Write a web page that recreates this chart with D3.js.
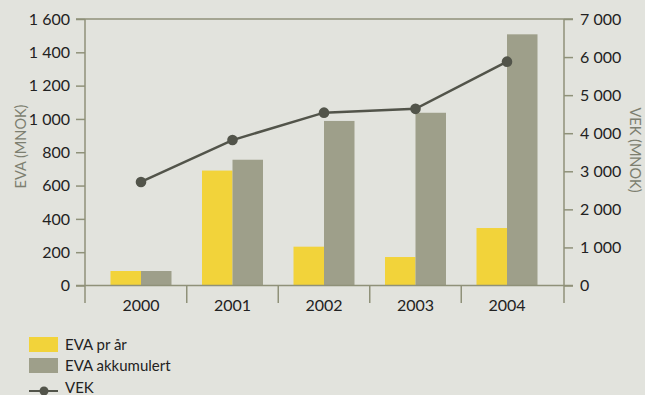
<!DOCTYPE html>
<html>
<head>
<meta charset="utf-8">
<script src="https://cdn.jsdelivr.net/npm/d3@7/dist/d3.min.js"></script>
<style>
  html, body { margin: 0; padding: 0; background: #e2e3dd; }
  svg { display: block; }
  text { font-family: Lato, "Open Sans", sans-serif; }
</style>
</head>
<body>
<svg id="chart" width="645" height="395"></svg>
<script>
// Data (MNOK)
const years = ["2000", "2001", "2002", "2003", "2004"];
const evaPrAar = [87, 690, 233, 171, 345];
const evaAkkumulert = [87, 755, 988, 1037, 1508];
const vek = [2720, 3820, 4540, 4640, 5880];
const leftTicks = [0, 200, 400, 600, 800, 1000, 1200, 1400, 1600];
const rightTicks = [0, 1000, 2000, 3000, 4000, 5000, 6000, 7000];
const legendItems = ["EVA pr år", "EVA akkumulert", "VEK"];

const colors = {
  yellow: "#f2d33a",
  gray: "#9e9f8a",
  line: "#52544a",
  axis: "#8f9179",
  text: "#222222",
  title: "#7d7f70"
};

const svg = d3.select("#chart");
const plotLeft = 85, plotRight = 564, plotTop = 19, plotBase = 285.5;

const nb = d3.formatLocale({ decimal: ",", thousands: "\u00a0", grouping: [3], currency: ["", ""] });
const fmt = nb.format(",d");

const x = d3.scaleBand().domain(years).range([95.25, 552.75]).paddingInner(0).paddingOuter(0);
const yL = d3.scaleLinear().domain([0, 1600]).range([plotBase, plotTop]);
const yR = d3.scaleLinear().domain([0, 7000]).range([plotBase, plotTop]);
const bw = x.bandwidth() / 3;
const cx = d => x(d) + x.bandwidth() / 2;

// Bars
const g = svg.append("g");
g.selectAll("rect.yearly").data(years).join("rect").attr("class", "yearly")
  .attr("x", d => cx(d) - bw).attr("width", bw)
  .attr("y", (d, i) => yL(evaPrAar[i])).attr("height", (d, i) => plotBase - yL(evaPrAar[i]))
  .attr("fill", colors.yellow);
g.selectAll("rect.acc").data(years).join("rect").attr("class", "acc")
  .attr("x", d => cx(d)).attr("width", bw)
  .attr("y", (d, i) => yL(evaAkkumulert[i])).attr("height", (d, i) => plotBase - yL(evaAkkumulert[i]))
  .attr("fill", colors.gray);

// Frame: top line, baseline, vertical axes
const frame = svg.append("g").attr("stroke", colors.axis).attr("stroke-width", 1.5).attr("fill", "none");
frame.append("line").attr("x1", plotLeft - 9).attr("x2", plotRight + 9).attr("y1", plotTop).attr("y2", plotTop);
frame.append("line").attr("x1", plotLeft - 9).attr("x2", plotRight + 9).attr("y1", plotBase).attr("y2", plotBase);
frame.append("line").attr("x1", plotLeft).attr("x2", plotLeft).attr("y1", plotTop).attr("y2", plotBase + 17.5);
frame.append("line").attr("x1", plotRight).attr("x2", plotRight).attr("y1", plotTop).attr("y2", plotBase + 17.5);

// Category separators
frame.selectAll("line.sep").data(years.slice(1)).join("line").attr("class", "sep")
  .attr("x1", d => x(d)).attr("x2", d => x(d))
  .attr("y1", plotBase).attr("y2", plotBase + 17.5);

// Left axis
const axL = svg.append("g").attr("transform", `translate(${plotLeft},0)`)
  .call(d3.axisLeft(yL).tickValues(leftTicks).tickFormat(fmt).tickSize(9).tickPadding(6));
axL.select(".domain").remove();
axL.selectAll(".tick line").attr("stroke", colors.axis).attr("stroke-width", 1.5);
axL.selectAll(".tick text").attr("fill", colors.text).style("font-size", "16px")
  .style("font-family", "Lato, sans-serif");

// Right axis
const axR = svg.append("g").attr("transform", `translate(${plotRight},0)`)
  .call(d3.axisRight(yR).tickValues(rightTicks).tickFormat(fmt).tickSize(9).tickPadding(7));
axR.select(".domain").remove();
axR.selectAll(".tick line").attr("stroke", colors.axis).attr("stroke-width", 1.5);
axR.selectAll(".tick text").attr("fill", colors.text).style("font-size", "16px")
  .style("font-family", "Lato, sans-serif");

// Category labels
svg.append("g").selectAll("text").data(years).join("text")
  .attr("x", d => cx(d)).attr("y", 311)
  .attr("text-anchor", "middle").attr("fill", colors.text)
  .style("font-size", "16px").text(d => d);

// VEK line
const line = d3.line().x((d, i) => cx(years[i])).y(d => yR(d));
svg.append("path").datum(vek).attr("d", line)
  .attr("fill", "none").attr("stroke", colors.line).attr("stroke-width", 2.5);
svg.append("g").selectAll("circle").data(vek).join("circle")
  .attr("cx", (d, i) => cx(years[i])).attr("cy", d => yR(d)).attr("r", 5.3)
  .attr("fill", colors.line);

// Axis titles
svg.append("text").attr("transform", "translate(25.5,146.5) rotate(-90)")
  .attr("text-anchor", "middle").attr("fill", colors.title)
  .style("font-size", "14.5px").text("EVA (MNOK)");
svg.append("text").attr("transform", "translate(629.5,150) rotate(90)")
  .attr("text-anchor", "middle").attr("fill", colors.title)
  .style("font-size", "14.5px").text("VEK (MNOK)");

// Legend
const lg = svg.append("g");
lg.append("rect").attr("x", 29).attr("y", 337).attr("width", 29).attr("height", 15).attr("fill", colors.yellow);
lg.append("rect").attr("x", 29).attr("y", 358).attr("width", 29).attr("height", 15).attr("fill", colors.gray);
lg.append("line").attr("x1", 29).attr("x2", 58).attr("y1", 391).attr("y2", 391)
  .attr("stroke", colors.line).attr("stroke-width", 2);
lg.append("circle").attr("cx", 44).attr("cy", 391).attr("r", 4.5).attr("fill", colors.line);
lg.selectAll("text").data(legendItems).join("text")
  .attr("x", 65).attr("y", (d, i) => 349.5 + i * 21.5)
  .attr("fill", colors.text).style("font-size", "15px").text(d => d);
</script>
</body>
</html>
